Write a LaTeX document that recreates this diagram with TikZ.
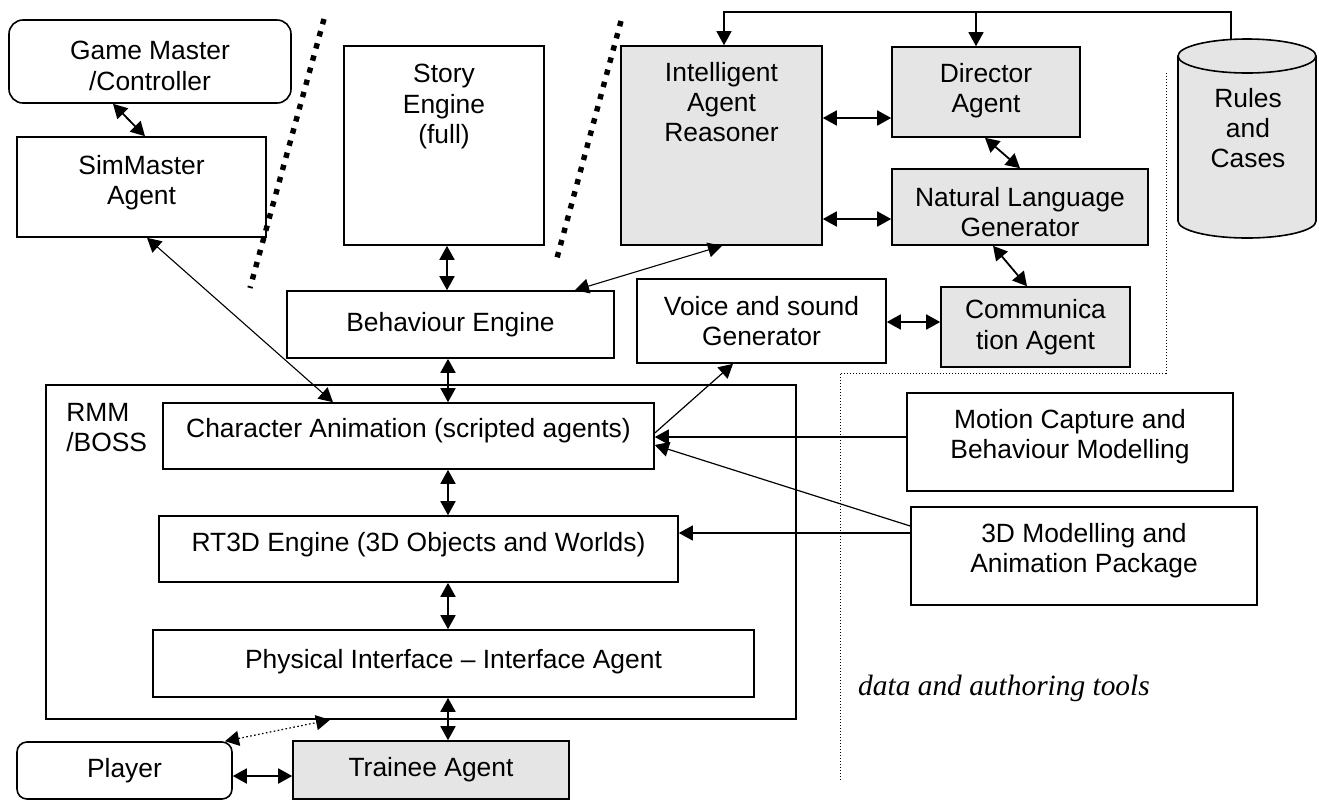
\documentclass[tikz,border=0pt]{standalone}
\usepackage{fontspec}
\setmainfont{Liberation Sans}
\newfontfamily\notefont{Liberation Serif}
\usetikzlibrary{positioning, arrows.meta}
\definecolor{agentgray}{gray}{0.9}
\newcommand{\archbox}[6]{\node[box, minimum width=#3, minimum height=#4, #6] (#1) at (#2) {#5};}
\newcommand{\archlink}[3]{\draw[#3] (#1) -- (#2);}

\begin{document}
\begin{tikzpicture}[x=0.5pt, y=-0.5pt,
  box/.style={draw, line width=0.8pt, inner sep=0pt, align=center, font=\fontsize{13.2}{15.2}\selectfont},
  agent/.style={box, fill=agentgray},
  lifted/.style 2 args={text height=#1, text depth=#2},
  >={Triangle[length=7pt, width=7.5pt]},
  both/.style={<->, line width=0.9pt},
  boththin/.style={<->, line width=0.55pt},
  feed/.style={->, line width=0.6pt},
  divider/.style={line width=2.7pt, dash pattern=on 2.7pt off 3.6pt},
  border/.style={line width=0.5pt, dash pattern=on 0.6pt off 0.9pt}]

\useasboundingbox (0,0) rectangle (1319,800);

% left column
\archbox{gm}{150,61.5}{141pt}{41.5pt}{Game Master\\/Controller}{rounded corners=7pt, lifted={28.7pt}{0pt}}
\archbox{simm}{141.5,187}{124.5pt}{50pt}{SimMaster\\Agent}{lifted={24.7pt}{7pt}}

% story and reasoning
\archbox{story}{444,145.5}{100pt}{99.5pt}{Story\\Engine\\(full)}{lifted={39.9pt}{42pt}}
\archbox{reasoner}{721.5,145.5}{100.5pt}{99.5pt}{Intelligent\\Agent\\Reasoner}{agent, lifted={39.9pt}{43.5pt}}
\archbox{director}{986,92}{94pt}{45pt}{Director\\Agent}{agent, lifted={24.7pt}{4pt}}
\archbox{nlg}{1020,207}{128pt}{38pt}{Natural Language\\Generator}{agent, lifted={29.7pt}{0pt}}

% rules and cases store
\draw[fill=agentgray, line width=0.8pt] (1178,56) -- (1178,221)
  arc[start angle=180, end angle=0, x radius=69, y radius=17] -- (1316,56)
  arc[start angle=0, end angle=-180, x radius=69, y radius=17] -- cycle;
\draw[line width=0.8pt] (1178,56) arc[start angle=180, end angle=0, x radius=69, y radius=17];
\node[font=\fontsize{13.2}{15.2}\selectfont, align=center] (rules) at (1248,128) {Rules\\and\\Cases};
\coordinate (rulestop) at (1231,39.5);
\coordinate (busknee) at (1231,12);
\coordinate (directortap) at (976,12);

\archbox{beh}{450.5,324.5}{163.5pt}{33.5pt}{Behaviour Engine}{}
\archbox{voice}{761.5,321}{124.5pt}{42pt}{Voice and sound\\Generator}{}
\archbox{comm}{1035.5,327}{94.5pt}{40pt}{Communica\\tion Agent}{agent}

% RMM/BOSS block
\archbox{rmm}{421,552}{375pt}{167pt}{}{}
\node[anchor=north west, align=left, inner sep=0pt, font=\fontsize{13.2}{15.2}\selectfont] (rmmtag) at (66,403) {RMM\\/BOSS};
\archbox{charanim}{408.5,436}{245.5pt}{33pt}{Character Animation (scripted agents)}{lifted={9.5pt}{8pt}}
\archbox{rt3d}{418.5,549}{259.5pt}{33pt}{RT3D Engine (3D Objects and Worlds)}{lifted={9.5pt}{7pt}}
\archbox{phys}{453.5,663.5}{300.5pt}{33.5pt}{Physical Interface -- Interface Agent}{lifted={9.5pt}{5pt}}

% authoring tools
\archbox{motion}{1070,442}{163pt}{49pt}{Motion Capture and\\Behaviour Modelling}{lifted={24.7pt}{8pt}}
\archbox{model3d}{1084,556}{173pt}{49pt}{3D Modelling and\\Animation Package}{lifted={24.7pt}{8pt}}

% bottom row
\archbox{player}{124.5,770.5}{107.5pt}{28.5pt}{Player}{rounded corners=5pt}
\archbox{trainee}{431,770}{138pt}{29pt}{Trainee Agent}{agent}

% dividers
\draw[divider] (324,19) -- (250,288);
\draw[divider] (621,21) -- (557,258);
\draw[border] (1166,73) -- (1166,373) -- (840,373) -- (840,781);
\node[font=\notefont\itshape\fontsize{14.7}{17}\selectfont] (toolsnote) at (1004,688) {data and authoring tools};

% connectors
\draw[feed] (rulestop) -- (busknee) -| (reasoner.north -| 724,0);
\draw[feed] (directortap) -- (director.north -| 976,0);
\archlink{gm.south -| 113,0}{simm.north -| 145,0}{both}
\archlink{simm.south -| 147,0}{charanim.north -| 333,0}{boththin}
\archlink{story.south -| 447,0}{beh.north -| 447,0}{both}
\archlink{beh.south -| 448,0}{charanim.north -| 448,0}{both}
\archlink{charanim.south -| 448,0}{rt3d.north -| 448,0}{both}
\archlink{rt3d.south -| 448,0}{phys.north -| 448,0}{both}
\archlink{phys.south -| 448,0}{trainee.north -| 448,0}{both}
\archlink{player.east |- 0,776}{trainee.west |- 0,776}{both}
\archlink{player.north -| 225,0}{rmm.south -| 330,0}{<->, line width=0.6pt, dash pattern=on 0.8pt off 1.2pt}
\archlink{beh.north -| 575,0}{reasoner.south -| 722,0}{boththin}
\archlink{reasoner.east |- 0,118}{director.west |- 0,118}{both}
\archlink{reasoner.east |- 0,219}{nlg.west |- 0,219}{both}
\archlink{director.south -| 985,0}{nlg.north -| 1020,0}{both}
\archlink{nlg.south -| 993,0}{comm.north -| 1027,0}{both}
\archlink{voice.east |- 0,322}{comm.west |- 0,322}{both}
\archlink{charanim.east |- 0,433}{voice.south -| 733,0}{feed}
\archlink{motion.west |- 0,437}{charanim.east |- 0,437}{feed}
\archlink{model3d.west |- 0,526}{charanim.east |- 0,445}{feed}
\archlink{model3d.west |- 0,533}{rt3d.east |- 0,533}{feed}
\end{tikzpicture}
\end{document}
